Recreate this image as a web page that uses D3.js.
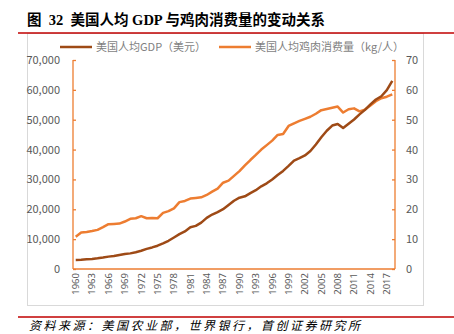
<!DOCTYPE html>
<html>
<head>
<meta charset="utf-8">
<script src="https://cdn.jsdelivr.net/npm/d3@7/dist/d3.min.js"></script>
<style>
  body { margin: 0; background: #fff; }
  svg { display: block; font-family: "Noto Sans CJK SC", "Noto Sans", sans-serif; }
</style>
</head>
<body>
<div id="chart"></div>
<script>
// years 1960 - 2018
const years = d3.range(1960, 2019);

// US GDP per capita (USD), left axis
const gdp = [
  3007, 3067, 3244, 3375, 3574, 3828, 4146, 4336, 4696, 5032,
  5234, 5609, 6094, 6726, 7226, 7801, 8592, 9453, 10565, 11674,
  12575, 13976, 14434, 15544, 17121, 18237, 19071, 20039, 21417, 22857,
  23889, 24342, 25419, 26387, 27695, 28691, 29968, 31459, 32854, 34515,
  36330, 37134, 38023, 39496, 41713, 44115, 46299, 48050, 48570, 47195,
  48651, 50066, 51784, 53291, 55124, 56763, 57867, 59915, 62997
];

// US chicken consumption per capita (kg), right axis
const chicken = [
  10.8, 12.2, 12.4, 12.7, 13.1, 14.0, 15.0, 15.1, 15.2, 15.9,
  16.8, 17.0, 17.7, 17.0, 17.1, 17.0, 18.8, 19.4, 20.3, 22.4,
  22.8, 23.6, 23.8, 24.0, 24.8, 25.9, 26.9, 28.9, 29.6, 31.2,
  32.8, 34.7, 36.5, 38.2, 40.0, 41.5, 43.0, 44.9, 45.2, 47.9,
  48.8, 49.6, 50.3, 51.0, 52.0, 53.2, 53.6, 54.0, 54.4, 52.4,
  53.5, 53.8, 52.8, 53.4, 54.8, 56.2, 57.2, 57.7, 58.5
];

const leftTicks = [0, 10000, 20000, 30000, 40000, 50000, 60000, 70000];
const rightTicks = [0, 10, 20, 30, 40, 50, 60, 70];
const seriesNames = ["美国人均GDP（美元）", "美国人均鸡肉消费量（kg/人）"];

const W = 454, H = 334;
const brown = "#9E4A16", orange = "#ED7D31", txt = "#595959";
const plot = { left: 73, right: 395, top: 60, bottom: 269 };

const svg = d3.select("#chart").append("svg").attr("width", W).attr("height", H);

// title
svg.append("text")
  .attr("x", 27).attr("y", 25)
  .style("white-space", "pre")
  .style("font-family", "'Liberation Serif', 'Noto Sans CJK SC', serif")
  .style("font-size", "14.5px")
  .style("font-weight", "600")
  .style("fill", "#000")
  .text("图  32  美国人均 GDP 与鸡肉消费量的变动关系");

// chart frame
svg.append("rect")
  .attr("x", 27.5).attr("y", 33.5).attr("width", 396).attr("height", 272)
  .style("fill", "none").style("stroke", "#d9d9d9");

// red rules
svg.append("line").attr("x1", 18).attr("x2", W).attr("y1", 33).attr("y2", 33)
  .style("stroke", "#C00000").style("stroke-width", 1.5);
svg.append("line").attr("x1", 18).attr("x2", W).attr("y1", 317).attr("y2", 317)
  .style("stroke", "#C00000").style("stroke-width", 1.5);

// source
svg.append("text")
  .attr("x", 29).attr("y", 330)
  .style("font-size", "12px")
  .style("font-style", "italic")
  .style("letter-spacing", "2.5px")
  .style("fill", "#000")
  .text("资料来源：美国农业部，世界银行，首创证券研究所");

// scales
const x = d3.scaleBand().domain(years).range([plot.left, plot.right]);
const yL = d3.scaleLinear().domain([0, 70000]).range([plot.bottom, plot.top]);
const yR = d3.scaleLinear().domain([0, 70]).range([plot.bottom, plot.top]);
const cx = d => x(d) + x.bandwidth() / 2;

// left axis
const axL = svg.append("g").attr("transform", `translate(${plot.left},0)`)
  .call(d3.axisRight(yL).tickValues(leftTicks).tickSize(3).tickFormat(""));
axL.select(".domain").attr("d", `M0,${plot.top}V${plot.bottom}`);
axL.selectAll("path, line").style("stroke", orange).style("stroke-width", 1.3);

svg.append("g").selectAll("text").data(leftTicks).enter().append("text")
  .attr("x", 60).attr("y", d => yL(d) + 4)
  .attr("text-anchor", "end")
  .style("font-size", "11px").style("fill", txt)
  .text(d => d3.format(",")(d));

// right axis
const axR = svg.append("g").attr("transform", `translate(${plot.right},0)`)
  .call(d3.axisLeft(yR).tickValues(rightTicks).tickSize(3).tickFormat(""));
axR.select(".domain").attr("d", `M0,${plot.top}V${plot.bottom}`);
axR.selectAll("path, line").style("stroke", orange).style("stroke-width", 1.3);

svg.append("g").selectAll("text").data(rightTicks).enter().append("text")
  .attr("x", 406).attr("y", d => yR(d) + 4)
  .style("font-size", "11px").style("fill", txt)
  .text(d => d);

// bottom axis
const axB = svg.append("g").attr("transform", `translate(0,${plot.bottom})`)
  .call(d3.axisBottom(x).tickValues(years.filter(d => (d - 1960) % 3 === 0)).tickSize(0));
axB.select(".domain").attr("d", `M${plot.left},0H${plot.right}`)
  .style("stroke", orange).style("stroke-width", 1.3);
axB.selectAll("text")
  .attr("transform", "rotate(-90)")
  .attr("x", -4).attr("y", 0).attr("dy", "0.35em")
  .attr("text-anchor", "end")
  .style("font-family", "'Noto Sans', sans-serif")
  .style("font-size", "9.5px").style("fill", txt);

// lines
const lineL = d3.line().x((d, i) => cx(years[i])).y(d => yL(d));
const lineR = d3.line().x((d, i) => cx(years[i])).y(d => yR(d));

svg.append("path").datum(chicken).attr("d", lineR)
  .style("fill", "none").style("stroke", orange).style("stroke-width", 2.5)
  .style("stroke-linejoin", "round");
svg.append("path").datum(gdp).attr("d", lineL)
  .style("fill", "none").style("stroke", brown).style("stroke-width", 2.5)
  .style("stroke-linejoin", "round");

// legend
const legend = [
  { name: seriesNames[0], color: brown, x: 60 },
  { name: seriesNames[1], color: orange, x: 219 }
];
const lg = svg.append("g").selectAll("g").data(legend).enter().append("g")
  .attr("transform", d => `translate(${d.x},47)`);
lg.append("line").attr("x1", 0).attr("x2", 32)
  .style("stroke", d => d.color).style("stroke-width", 2.5);
lg.append("text").attr("x", 36).attr("y", 4)
  .style("font-size", "11px").style("fill", "#7f7f7f")
  .text(d => d.name);
</script>
</body>
</html>
